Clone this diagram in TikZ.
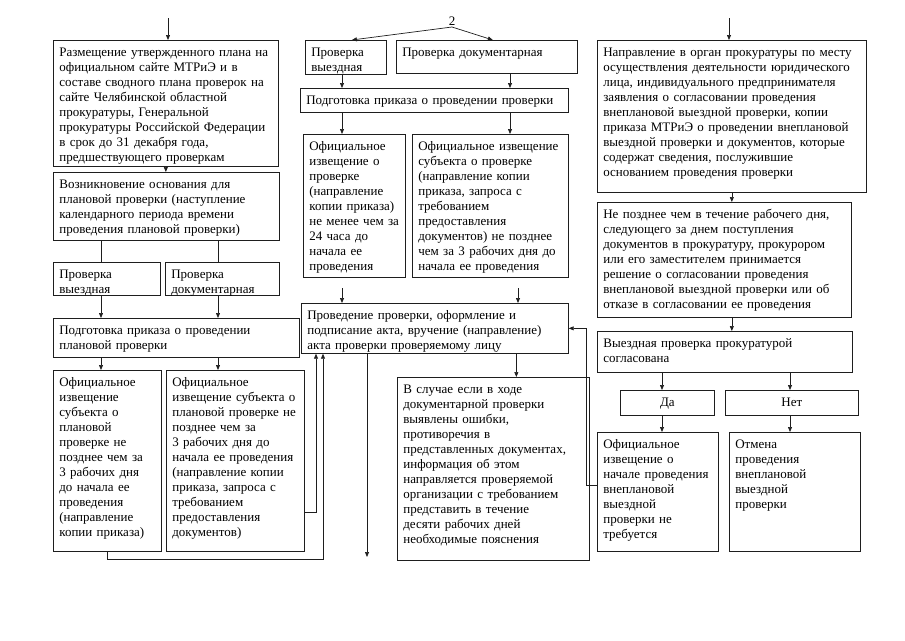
\documentclass[tikz,border=0pt]{standalone}
\usepackage{fontspec}
\setmainfont{Liberation Serif}
\usepackage{tikz}
\usetikzlibrary{arrows.meta}
\definecolor{ink}{HTML}{1e1e1e}

\begin{document}
\begin{tikzpicture}[
  x=1pt, y=-1pt,
  font=\fontsize{13}{15}\selectfont,
  box/.style 2 args={rectangle, draw=ink, line width=0.7pt, anchor=north west,
    align=left, inner xsep=6pt, inner ysep=4pt, text height=12pt,
    text width=#1, text depth=#2},
  arrow/.style={-{Triangle[length=5pt, width=4pt]}, line width=0.7pt, color=ink},
  link/.style={line width=0.7pt, color=ink},
]
  \useasboundingbox (0,0) rectangle (905,640);

  % columns and free ends
  \coordinate (colA) at (101,0);
  \coordinate (colB) at (218,0);
  \coordinate (colC) at (342,0);
  \coordinate (colD) at (510,0);
  \coordinate (colE) at (662,0);
  \coordinate (colF) at (790,0);
  \coordinate (startL) at (168,18);
  \coordinate (startR) at (729,18);
  \coordinate (gapA) at (342,288);
  \coordinate (gapB) at (518,288);
  \coordinate (outM) at (367,557);

  % left column: planned inspection
  \node[box={213pt}{106pt}] (plan) at (53,40) {Размещение утвержденного плана на\\
    официальном сайте МТРиЭ и в\\составе сводного плана проверок на\\
    сайте Челябинской областной\\прокуратуры, Генеральной\\
    прокуратуры Российской Федерации\\в срок до 31 декабря года,\\
    предшествующего проверкам};
  \node[box={214pt}{48pt}] (basis) at (53,172) {Возникновение основания для\\
    плановой проверки (наступление\\календарного периода времени\\
    проведения плановой проверки)};
  \node[box={95pt}{13pt}] (fieldL) at (53,262) {Проверка\\выездная};
  \node[box={102pt}{13pt}] (docL) at (165,262) {Проверка\\документарная};
  \node[box={234pt}{19pt}] (orderL) at (53,318) {Подготовка приказа о проведении\\
    плановой проверки};
  \node[box={96pt}{161pt}] (noticeL1) at (53,370) {Официальное\\извещение\\субъекта о\\
    плановой\\проверке не\\позднее чем за\\3 рабочих дня\\до начала ее\\
    проведения\\(направление\\копии приказа)};
  \node[box={126pt}{161pt}] (noticeL2) at (166,370) {Официальное\\
    извещение субъекта о\\плановой проверке не\\позднее чем за\\
    3 рабочих дня до\\начала ее проведения\\(направление копии\\
    приказа, запроса с\\требованием\\предоставления\\документов)};

  % middle column: unscheduled inspection
  \node[inner sep=1pt, anchor=south] (two) at (452,27) {2};
  \node[box={69pt}{14pt}] (fieldM) at (305,40) {Проверка\\выездная};
  \node[box={169pt}{13pt}] (docM) at (396,40) {Проверка документарная};
  \node[box={256pt}{4pt}] (orderM) at (300,88) {Подготовка приказа о проведении проверки};
  \node[box={90pt}{123pt}] (noticeM1) at (303,134) {Официальное\\извещение о\\
    проверке\\(направление\\копии приказа)\\не менее чем за\\24 часа до\\
    начала ее\\проведения};
  \node[box={144pt}{123pt}] (noticeM2) at (412,134) {Официальное извещение\\
    субъекта о проверке\\(направление копии\\приказа, запроса с\\
    требованием\\предоставления\\документов) не позднее\\
    чем за 3 рабочих дня до\\начала ее проведения};
  \node[box={255pt}{30pt}] (conduct) at (301,303) {Проведение проверки, оформление и\\
    подписание акта, вручение (направление)\\акта проверки проверяемому лицу};
  \node[box={180pt}{163pt}] (errors) at (397,377) {В случае если в ходе\\
    документарной проверки\\выявлены ошибки,\\противоречия в\\
    представленных документах,\\информация об этом\\
    направляется проверяемой\\организации с требованием\\
    представить в течение\\десяти рабочих дней\\необходимые пояснения};

  % right column: agreement with the prosecutor
  \node[box={257pt}{132pt}] (request) at (597,40) {Направление в орган прокуратуры по месту\\
    осуществления деятельности юридического\\лица, индивидуального предпринимателя\\
    заявления о согласовании проведения\\внеплановой выездной проверки, копии\\
    приказа МТРиЭ о проведении внеплановой\\выездной проверки и документов, которые\\
    содержат сведения, послужившие\\основанием проведения проверки};
  \node[box={242pt}{95pt}] (decision) at (597,202) {Не позднее чем в течение рабочего дня,\\
    следующего за днем поступления\\документов в прокуратуру, прокурором\\
    или его заместителем принимается\\решение о согласовании проведения\\
    внеплановой выездной проверки или об\\отказе в согласовании ее проведения};
  \node[box={243pt}{21pt}] (agreed) at (597,331) {Выездная проверка прокуратурой\\согласована};
  \node[box={82pt}{5pt}, align=center] (yes) at (620,390) {Да};
  \node[box={121pt}{5pt}, align=center] (no) at (725,390) {Нет};
  \node[box={109pt}{99pt}] (noticeR) at (597,432) {Официальное\\извещение о\\
    начале проведения\\внеплановой\\выездной\\проверки не\\требуется};
  \node[box={119pt}{99pt}] (cancel) at (729,432) {Отмена\\проведения\\внеплановой\\
    выездной\\проверки};

  % connectors, left
  \draw[arrow] (startL) -- (startL |- plan.north);
  \draw[arrow] (plan.south) -- (plan.south |- basis.north);
  \draw[link] (basis.south -| colA) -- (fieldL.north -| colA);
  \draw[link] (basis.south -| colB) -- (docL.north -| colB);
  \draw[arrow] (fieldL.south -| colA) -- (orderL.north -| colA);
  \draw[arrow] (docL.south -| colB) -- (orderL.north -| colB);
  \draw[arrow] (orderL.south -| colA) -- (noticeL1.north -| colA);
  \draw[arrow] (orderL.south -| colB) -- (noticeL2.north -| colB);
  \draw[arrow] ([yshift=-51pt]noticeL2.east) -| ([xshift=15pt]conduct.south west);
  \draw[arrow] (noticeL1.south) -- ++(0,8) -| ([xshift=22pt]conduct.south west);

  % connectors, middle
  \draw[arrow] (two.south) -- ([xshift=6pt]fieldM.north);
  \draw[arrow] (two.south) -- ([xshift=6pt]docM.north);
  \draw[arrow] (fieldM.south -| colC) -- (orderM.north -| colC);
  \draw[arrow] (docM.south -| colD) -- (orderM.north -| colD);
  \draw[arrow] (orderM.south -| colC) -- (noticeM1.north -| colC);
  \draw[arrow] (orderM.south -| colD) -- (noticeM2.north -| colD);
  \draw[arrow] (gapA) -- (gapA |- conduct.north);
  \draw[arrow] (gapB) -- (gapB |- conduct.north);
  \draw[arrow] (outM |- conduct.south) -- (outM);
  \draw[arrow] ([xshift=23pt]errors.north |- conduct.south) -- ([xshift=23pt]errors.north);

  % connectors, right
  \draw[arrow] (startR) -- (startR |- request.north);
  \draw[arrow] (request.south) -- (request.south |- decision.north);
  \draw[arrow] (request.south |- decision.south) -- (request.south |- agreed.north);
  \draw[arrow] (agreed.south -| colE) -- (yes.north -| colE);
  \draw[arrow] (agreed.south -| colF) -- (no.north -| colF);
  \draw[arrow] (yes.south -| colE) -- (noticeR.north -| colE);
  \draw[arrow] (no.south -| colF) -- (cancel.north -| colF);
  \draw[arrow] ([yshift=7pt]noticeR.west) -- ++(-11,0) |- (conduct.east);
\end{tikzpicture}
\end{document}
